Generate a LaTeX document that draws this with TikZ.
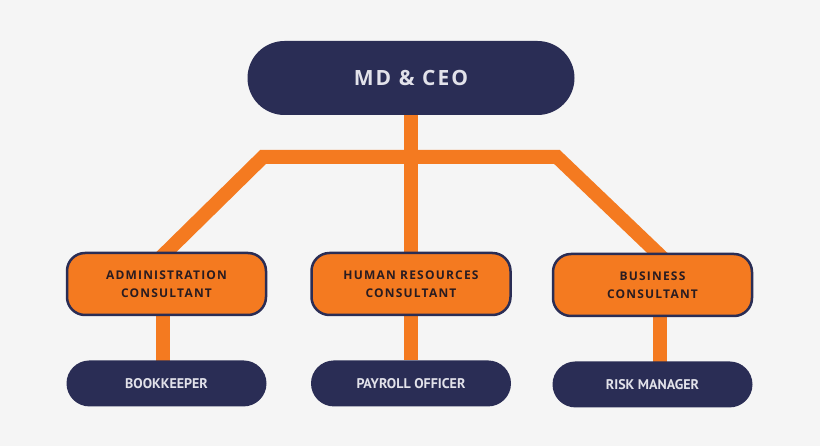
\documentclass[tikz,border=0pt]{standalone}
\usepackage{fontspec}
\newfontfamily\headfont[LetterSpace=10]{Open Sans}
\newfontfamily\rolefont{PT Sans}
\usepackage{tikz}
\usetikzlibrary{positioning,
                backgrounds}
\definecolor{navy}{HTML}{2A2D55}
\definecolor{corange}{HTML}{F47A20}
\definecolor{paper}{HTML}{F5F5F5}
\definecolor{inklight}{HTML}{E2E2EA}
\definecolor{inkdark}{HTML}{2A1C20}
\tikzset{chief/.style=
   {rectangle,
    fill=navy,
    text=inklight,
    text centered,
    rounded corners=37pt,
    minimum width=327pt,
    minimum height=74pt,
    font=\headfont\bfseries\fontsize{21}{24}\selectfont}}
\tikzset{consultant/.style =
   {rectangle,
    draw=navy,
    line width=2.5pt,
    fill=corange,
    text=inkdark,
    align=center,
    rounded corners=18pt,
    minimum width=199pt,
    minimum height=62pt,
    font=\headfont\bfseries\fontsize{12}{18}\selectfont}}
\tikzset{staff/.style =
   {rectangle,
    fill=navy,
    text=inklight,
    text centered,
    rounded corners=23pt,
    minimum width=200pt,
    minimum height=46pt,
    font=\rolefont\bfseries\fontsize{14}{16}\selectfont}}
\tikzset{link/.style = {draw=corange, line width=14pt, line join=miter}}

\begin{document}
\begin{tikzpicture}[x=1pt, y=-1pt]

    \useasboundingbox (0,0) rectangle (820,446);

    \node [chief] (ceo) at (411,78) {MD \& CEO};

    \node [consultant] (admin) at (166.5,284) {ADMINISTRATION\\CONSULTANT};
    \node [consultant] (hr) at (411,284) {HUMAN RESOURCES\\CONSULTANT};
    \node [consultant] (biz) at (652.5,285) {BUSINESS\\CONSULTANT};

    \node [staff,
           below = 44pt of admin] (bookkeeper) {BOOKKEEPER};
    \node [staff,
           below = 44pt of hr] (payroll) {PAYROLL OFFICER};
    \node [staff,
           below = 44pt of biz] (risk) {RISK MANAGER};

    \coordinate (hubleft) at (263,157);
    \coordinate (hubright) at (557,157);

    \begin{pgfonlayer}{background}
        \fill [paper] (0,0) rectangle (820,446);

        \path [link] (ceo) -- (hr);
        \path [link] ([shift={(-8pt,-8pt)}]admin.north) -- (hubleft)
                     -- (hubright) -- ([shift={(13pt,-8pt)}]biz.north);

        % consultants down to their staff
        \path [link] ([xshift=-4pt]admin.center) -- ([xshift=-4pt]bookkeeper.center);
        \path [link] (hr) -- (payroll);
        \path [link] ([xshift=7pt]biz.center) -- ([xshift=7pt]risk.center);
    \end{pgfonlayer}

\end{tikzpicture}
\end{document}
